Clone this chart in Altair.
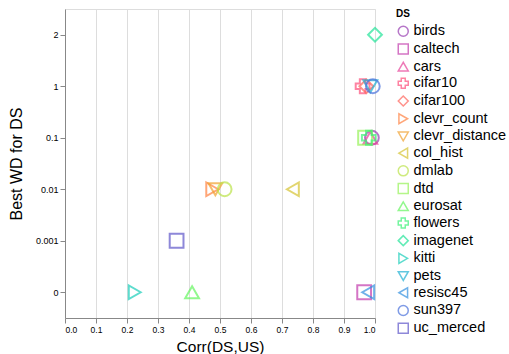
import altair as alt
import pandas as pd

datasets = ["birds", "caltech", "cars", "cifar10", "cifar100", "clevr_count",
            "clevr_distance", "col_hist", "dmlab", "dtd", "eurosat", "flowers",
            "imagenet", "kitti", "pets", "resisc45", "sun397", "uc_merced"]
corr = [0.99, 0.965, 0.985, 0.96, 0.972, 0.475,
        0.485, 0.735, 0.515, 0.968, 0.41, 0.98,
        1.0, 0.225, 0.985, 0.978, 0.993, 0.36]
best_wd = ["0.1", "0", "0.1", "1", "1", "0.01",
           "0.01", "0.01", "0.01", "0.1", "0", "0.1",
           "2", "0", "1", "0", "1", "0.001"]
wd_order = ["2", "1", "0.1", "0.01", "0.001", "0"]
x_ticks = [0.0, 0.1, 0.2, 0.3, 0.4, 0.5, 0.6, 0.7, 0.8, 0.9, 1.0]

df = pd.DataFrame({"DS": datasets, "Corr(DS,US)": corr, "Best WD for DS": best_wd})

chart = alt.Chart(df).mark_point(size=190, strokeWidth=2).encode(
    x=alt.X("Corr(DS,US):Q", scale=alt.Scale(domain=[0, 1]),
            axis=alt.Axis(values=x_ticks, format=".1f", titleFontSize=15.5,
                          titleFontWeight="normal", labelFontSize=8.5, titlePadding=6)),
    y=alt.Y("Best WD for DS:N", sort=wd_order,
            axis=alt.Axis(titleFontSize=16, titleFontWeight="normal", labelFontSize=9,
                          titlePadding=11)),
    color=alt.Color("DS:N", scale=alt.Scale(scheme="rainbow"),
                    legend=alt.Legend(labelFontSize=14.5, rowPadding=0.7, titleFontSize=10,
                                      symbolSize=100, offset=21, labelOffset=3)),
    shape=alt.Shape("DS:N"),
).properties(
    width=310, height=309,
    autosize=alt.AutoSizeParams(type="none"),
    padding={"left": 65, "top": 9, "right": 134, "bottom": 36},
).configure(font="Liberation Sans")

chart.save("out.html", embed_options={"renderer": "svg", "actions": False})
